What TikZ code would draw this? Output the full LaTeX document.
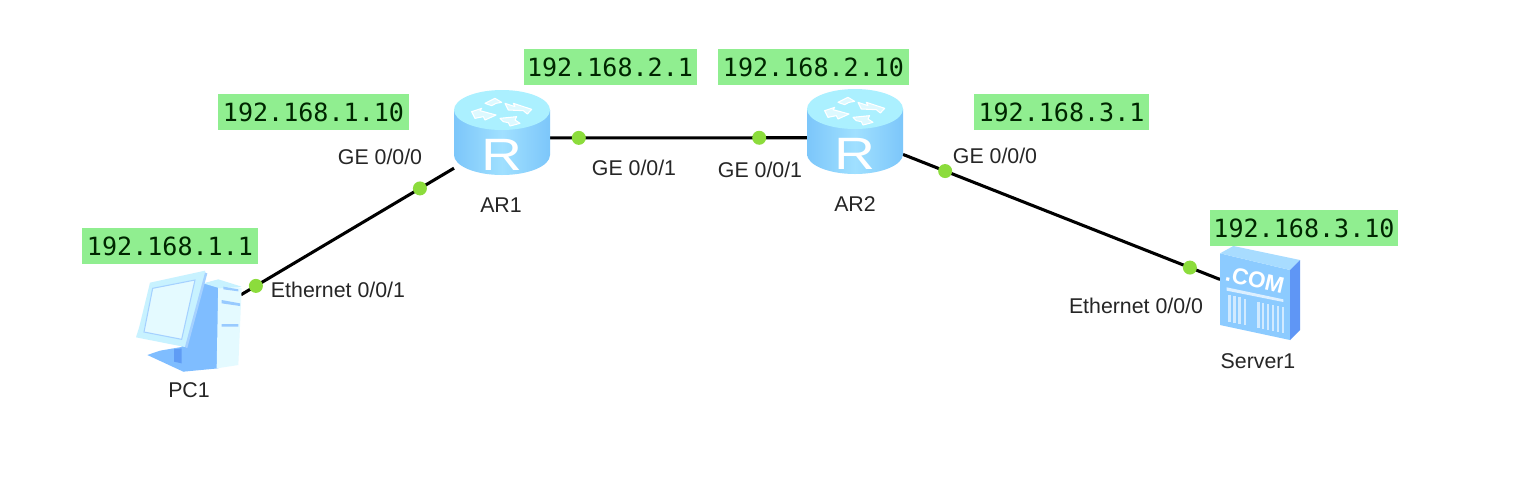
\documentclass[tikz,border=0pt]{standalone}
\usepackage{fontspec}
\setmainfont{Liberation Sans}
\newfontfamily\ipfont{DejaVu Sans Mono}
\definecolor{ipbg}{HTML}{90EE90}
\definecolor{dotgreen}{HTML}{8CDC3C}
\definecolor{rtop}{HTML}{ABF0FF}
\definecolor{rside}{HTML}{7CC6FA}
\definecolor{rmid}{HTML}{A0E0FF}
\definecolor{pclight}{HTML}{C8F2FF}
\definecolor{pcpale}{HTML}{E4FAFF}
\definecolor{pcblue}{HTML}{7FBDFF}
\definecolor{pcdeep}{HTML}{5F9CF5}
\definecolor{srvfront}{HTML}{8CCBFF}
\definecolor{srvtop}{HTML}{A8DCFF}
\definecolor{srvside}{HTML}{5F96F5}
\tikzset{
  x=0.75pt,y=-0.75pt,
  iplabel/.style={fill=ipbg,inner sep=0pt,minimum height=27pt,font=\ipfont\fontsize{18.8}{20}\selectfont,text=black!85!green,anchor=center},
  devlabel/.style={font=\fontsize{16}{18}\selectfont,text=black!85,inner sep=0pt},
  dev/.style={inner sep=0pt,outer sep=0pt},
  routerbox/.style={dev,minimum width=72pt,minimum height=64pt},
  pcbox/.style={dev,minimum width=78pt,minimum height=73.5pt},
  serverbox/.style={dev,minimum width=60pt,minimum height=72.75pt},
  link/.style={line width=2.3pt,black},
  portdot/.style={circle,fill=dotgreen,minimum size=10.5pt,inner sep=0pt},
  routericon/.pic={
    \path[left color=rside,right color=rside,middle color=rmid]
      (-48,-22) -- (-48,23) arc[start angle=180,end angle=0,x radius=48,y radius=20] -- (48,-22) -- cycle;
    \fill[rtop] (0,-22) ellipse[x radius=48,y radius=20];
    \begin{scope}[shift={(-82,-62)},scale=1/3]
      \path[draw=white,fill=rtop!40!white,line width=.8pt,line join=round]
        (195,100) -- (225,85) -- (245,97) -- (228,100) -- (215,107) -- cycle
        (255,100) -- (285,110) -- (280,100) -- (335,118) -- (322,132) -- (310,122) -- (265,120) -- cycle
        (155,125) -- (185,115) -- (180,122) -- (228,135) -- (195,150) -- (190,140) -- (165,145) -- cycle
        (240,145) -- (290,140) -- (285,150) -- (300,160) -- (270,168) -- (265,158) -- (250,155) -- cycle;
    \end{scope}
    \node[font=\fontsize{34}{34}\selectfont,text=white,inner sep=0pt,xscale=1.25] at (0,23) {R};
  },
  pcicon/.pic={
    \begin{scope}[shift={(-119,-99)},scale=1/3]
      \fill[pcblue] (345,205) -- (445,180) -- (445,445) -- (340,455) -- (335,380) -- cycle;
      \fill[pcpale] (445,180) -- (515,205) -- (505,435) -- (440,445) -- cycle;
      \fill[pclight] (400,190) -- (445,178) -- (515,200) -- (450,205) -- cycle;
      \fill[pcblue!80] (460,200) -- (505,208) -- (505,214) -- (460,208) -- cycle
        (455,240) -- (510,250) -- (510,258) -- (455,250) -- cycle
        (455,312) -- (505,312) -- (505,320) -- (455,320) -- cycle;
      \fill[pcblue] (232,405) -- (270,392) -- (340,380) -- (385,430) -- (340,455) -- cycle;
      \fill[pcdeep] (312,388) -- (335,385) -- (335,430) -- (312,425) -- cycle;
      \fill[pclight] (240,188) -- (405,152) -- (408,165) -- (350,382) -- (198,352) -- (208,320) -- cycle;
      \fill[pcblue!70] (405,158) -- (412,160) -- (352,384) -- (345,380) -- cycle;
      \fill[pcpale,draw=pcblue!70,line width=.8pt] (248,205) -- (375,180) -- (335,358) -- (222,336) -- cycle;
    \end{scope}
  },
  servericon/.pic={
    \begin{scope}[shift={(-90,-84)},scale=1/3]
      \fill[srvfront] (150,130) -- (360,180) -- (360,390) -- (150,345) -- cycle;
      \fill[srvtop] (150,130) -- (190,108) -- (390,150) -- (360,180) -- cycle;
      \fill[srvside] (360,180) -- (390,150) -- (390,360) -- (360,390) -- cycle;
      \fill[white,opacity=.7] (170,232) -- (340,268) -- (340,276) -- (170,242) -- cycle;
      \foreach \bx in {175,190,205,222,262,275,290,305,320,335}
        \fill[white,opacity=.6] (\bx,255+\bx*0.22-38) rectangle (\bx+7,310+\bx*0.22-14);
      \node[font=\bfseries\fontsize{17}{17}\selectfont,text=white,rotate=-13,inner sep=0pt] at (255,209) {.COM};
    \end{scope}
  }
}
\begin{document}
\begin{tikzpicture}
\useasboundingbox (0,0) rectangle (1515,497);
\fill[white] (0,0) rectangle (1515,497);
% device anchors
\node[pcbox] (PC1) at (189,319) {};
\node[routerbox] (AR1) at (502,132) {};
\node[routerbox] (AR2) at (855,131) {};
\node[serverbox] (Server1) at (1260,294) {};
% connectors with port dots
\draw[link] (PC1.25) -- node[portdot,pos=.07] (p1) {} node[portdot,pos=.84] (p2) {} (AR1.217);
\draw[link] (AR1.-7) -- node[portdot,pos=.112] (p3) {} node[portdot,pos=.814] (p4) {} (AR2.188);
\draw[link] (AR2.-26.6) -- node[portdot,pos=.133] (p5) {} node[portdot,pos=.905] (p6) {} (Server1.160.7);
% icons
\pic at (PC1) {pcicon};
\pic at (AR1) {routericon};
\pic at (AR2) {routericon};
\pic at (Server1) {servericon};
% device names
\node[devlabel] (nPC) at (189,390) {PC1};
\node[devlabel] (nAR1) at (501,205) {AR1};
\node[devlabel] (nAR2) at (855,204) {AR2};
\node[devlabel] (nSrv) at (1258,361) {Server1};
% port names
\node[devlabel] (l1) at (380,157) {GE 0/0/0};
\node[devlabel] (l2) at (634,168) {GE 0/0/1};
\node[devlabel] (l3) at (760,170) {GE 0/0/1};
\node[devlabel] (l4) at (995,156) {GE 0/0/0};
\node[devlabel] (l5) at (338,290) {Ethernet 0/0/1};
\node[devlabel] (l6) at (1136,306) {Ethernet 0/0/0};
% addresses
\node[iplabel,minimum width=132pt] (i1) at (170,246) {192.168.1.1};
\node[iplabel,minimum width=143.25pt] (i2) at (313.5,112) {192.168.1.10};
\node[iplabel,minimum width=129.75pt] (i3) at (610,67) {192.168.2.1};
\node[iplabel,minimum width=143.25pt] (i4) at (813.5,67) {192.168.2.10};
\node[iplabel,minimum width=131.25pt] (i5) at (1061.5,112) {192.168.3.1};
\node[iplabel,minimum width=141pt] (i6) at (1304,228) {192.168.3.10};
\end{tikzpicture}
\end{document}
